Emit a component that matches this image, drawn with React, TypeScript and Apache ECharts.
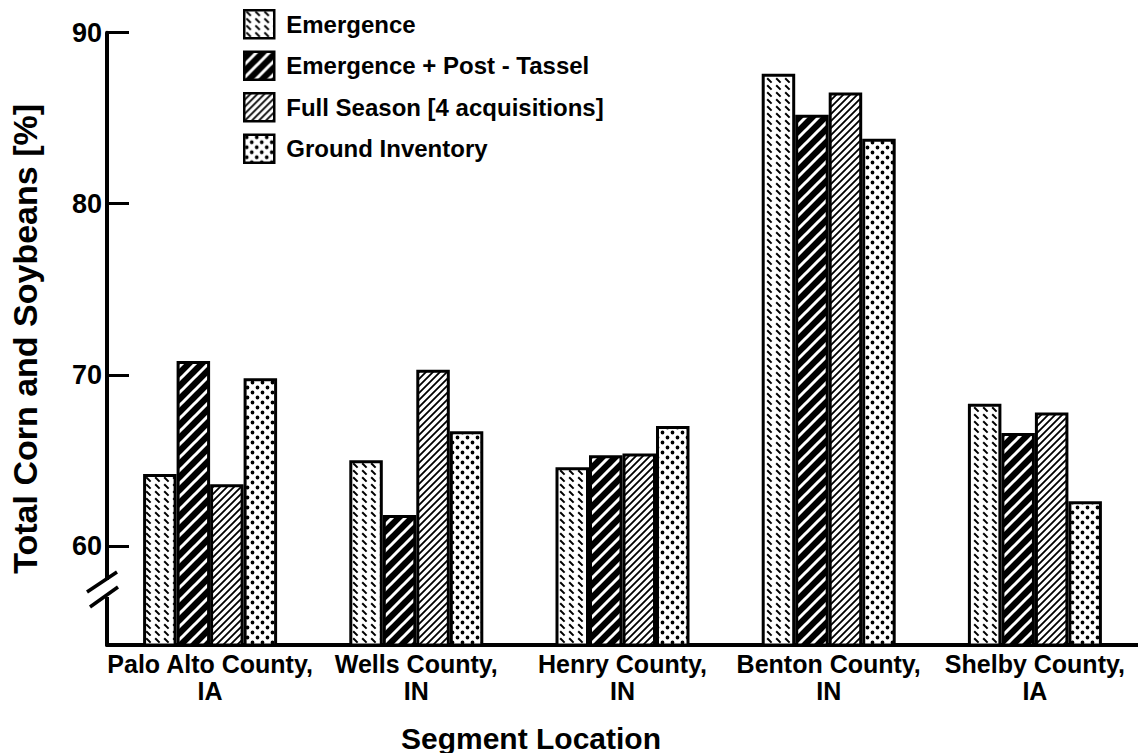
import React, { useEffect, useRef } from "react";
import * as echarts from "echarts";

const categories = [
  "Palo Alto County,\nIA",
  "Wells County,\nIN",
  "Henry County,\nIN",
  "Benton County,\nIN",
  "Shelby County,\nIA",
];
const seriesNames = [
  "Emergence",
  "Emergence + Post - Tassel",
  "Full Season [4 acquisitions]",
  "Ground Inventory",
];
const emergence = [64.2, 65.0, 64.6, 87.6, 68.3];
const emergencePostTassel = [70.8, 61.8, 65.3, 85.2, 66.6];
const fullSeason = [63.6, 70.3, 65.4, 86.5, 67.8];
const groundInventory = [69.8, 66.7, 67.0, 83.8, 62.6];
const yTicks = [60, 70, 80, 90];

const FONT = "'Liberation Sans', Arial, Helvetica, sans-serif";

function makePattern(kind: string) {
  const c = document.createElement("canvas");
  let w = 10, h = 10;
  if (kind === "emergence") { w = 9; h = 7; }
  if (kind === "post") { w = 13; h = 13; }
  if (kind === "full") { w = 7; h = 7; }
  if (kind === "ground") { w = 10; h = 10; }
  c.width = w; c.height = h;
  const ctx = c.getContext("2d")!;
  ctx.fillStyle = kind === "post" ? "#000" : "#fff";
  ctx.fillRect(0, 0, w, h);
  if (kind === "emergence") {
    ctx.strokeStyle = "#000";
    ctx.lineWidth = 2;
    ctx.beginPath();
    ctx.moveTo(2.2, 1.2);
    ctx.lineTo(6.6, 5.6);
    ctx.stroke();
  } else if (kind === "post" || kind === "full") {
    ctx.strokeStyle = kind === "post" ? "#fff" : "#000";
    ctx.lineWidth = kind === "post" ? 3 : 1.8;
    const s = w;
    ctx.beginPath();
    ctx.moveTo(0, s); ctx.lineTo(s, 0);
    ctx.moveTo(-2, 2); ctx.lineTo(2, -2);
    ctx.moveTo(s - 2, s + 2); ctx.lineTo(s + 2, s - 2);
    ctx.stroke();
  } else if (kind === "ground") {
    ctx.fillStyle = "#000";
    ctx.beginPath();
    ctx.arc(2.5, 2.5, 1.9, 0, Math.PI * 2);
    ctx.closePath();
    ctx.moveTo(9.4, 7.5);
    ctx.arc(7.5, 7.5, 1.9, 0, Math.PI * 2);
    ctx.fill();
  }
  return { image: c, repeat: "repeat", imageWidth: w, imageHeight: h } as any;
}

export default function App() {
  const ref = useRef<HTMLDivElement>(null);
  useEffect(() => {
    const chart = echarts.init(ref.current!, null, { renderer: "svg" });
    const kinds = ["emergence", "post", "full", "ground"];
    const data = [emergence, emergencePostTassel, fullSeason, groundInventory];
    const series = seriesNames.map((name, i) => ({
      name,
      type: "bar",
      data: data[i],
      barWidth: 33.5,
      barGap: "0%",
      itemStyle: {
        color: makePattern(kinds[i]),
        borderColor: "#000",
        borderWidth: 3,
      },
    }));
    chart.setOption({
      animation: false,
      backgroundColor: "#fff",
      grid: { left: 103, right: 0, top: 32.7, bottom: 108, containLabel: false },
      legend: {
        orient: "vertical",
        left: 243,
        top: 9,
        padding: 0,
        itemWidth: 30,
        itemHeight: 28,
        itemGap: 11,
        icon: "rect",
        itemStyle: { borderWidth: 2.5, borderColor: "#000" },
        textStyle: {
          fontFamily: FONT,
          fontWeight: "bold",
          fontSize: 24,
          color: "#000",
          padding: [0, 0, 0, 7],
        },
        data: seriesNames,
      },
      xAxis: {
        type: "category",
        data: categories,
        axisLine: { lineStyle: { color: "#000", width: 4 } },
        axisTick: { show: false },
        axisLabel: {
          color: "#000",
          fontFamily: FONT,
          fontWeight: "bold",
          fontSize: 25,
          lineHeight: 27,
          margin: 5,
          interval: 0,
        },
      },
      yAxis: {
        type: "value",
        min: 54.2,
        max: 90,
        splitLine: { show: false },
        axisLine: { show: true, lineStyle: { color: "#000", width: 4 } },
        axisTick: {
          show: true,
          inside: true,
          length: 22,
          customValues: yTicks,
          lineStyle: { color: "#000", width: 3 },
        },
        axisLabel: {
          customValues: yTicks,
          color: "#000",
          fontFamily: FONT,
          fontWeight: "bold",
          fontSize: 27,
          margin: 5,
        },
        name: "Total Corn and Soybeans [%]",
        nameLocation: "middle",
        nameGap: 65,
        nameTextStyle: {
          color: "#000",
          fontFamily: FONT,
          fontWeight: "bold",
          fontSize: 34,
        },
      },
      graphic: [
        {
          type: "rect",
          shape: { x: 98, y: 580, width: 12, height: 17 },
          style: { fill: "#fff" },
          z: 100,
        },
        {
          type: "line",
          shape: { x1: 87, y1: 592, x2: 117, y2: 572 },
          style: { stroke: "#000", lineWidth: 3.5 },
          z: 101,
        },
        {
          type: "line",
          shape: { x1: 90, y1: 607, x2: 118, y2: 587 },
          style: { stroke: "#000", lineWidth: 3.5 },
          z: 101,
        },
        {
          type: "text",
          x: 531,
          y: 738,
          style: {
            text: "Segment Location",
            fill: "#000",
            font: `bold 30px ${FONT}`,
            textAlign: "center",
            textVerticalAlign: "middle",
          },
          z: 100,
        },
      ],
      series,
    });
    return () => chart.dispose();
  }, []);
  return (
    <div
      ref={ref}
      style={{ position: "absolute", left: 0, top: 0, width: 1138, height: 753 }}
    />
  );
}
